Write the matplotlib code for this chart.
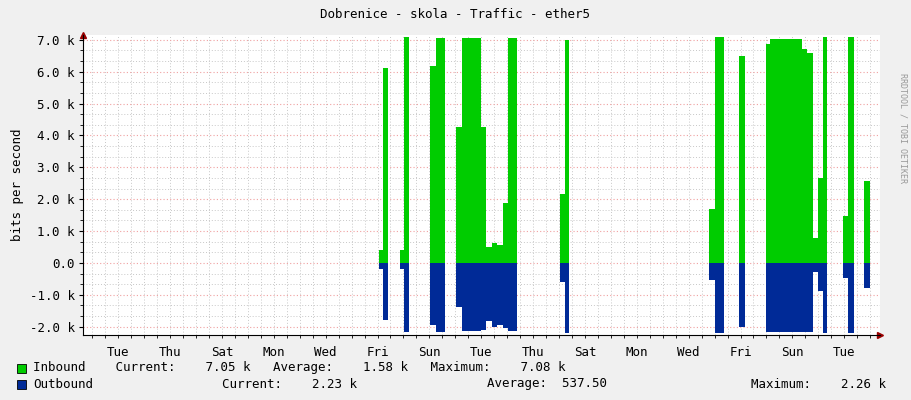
import matplotlib
matplotlib.use("Agg")
import matplotlib.pyplot as plt
import numpy as np
from matplotlib.ticker import MultipleLocator, FixedLocator

# segment edges (days) ; values in bits/s per segment (NaN = no data)
edges = [10.55,10.72,10.91,11.08, 11.36,11.53,11.72,11.90, 12.52,12.75,13.10,13.29,
         13.51,13.75,14.48,14.68,14.93,15.09,15.33,15.52,15.89,16.10,
         17.54,17.73,17.88,18.04,
         23.28,23.51,23.86,24.05, 24.45,24.67,24.86,
         25.48,25.63,26.86,27.05,27.28,27.47,27.67,27.84,28.04,
         28.47,28.66,28.86,29.03, 29.26,29.49,29.84]
nan = np.nan
inbound = [410,6100,5960,nan, 410,7100,2600,nan, 6170,7050,320,nan,
           4270,7050,4270,500,620,550,1890,7050,1690,nan,
           2150,7000,4500,nan,
           1690,7080,1440,nan, 6490,4950,nan,
           6870,7030,6700,6600,770,2670,7100,3780,nan,
           1480,7100,2260,nan, 2580,7050]
outbound = [180,1800,1800,nan, 180,2180,850,nan, 1960,2180,120,nan,
            1370,2150,2100,1820,2000,1950,2050,2150,530,nan,
            600,2200,1700,nan,
            550,2200,530,nan, 2000,1530,nan,
            2180,2180,2180,2180,270,870,2200,1210,nan,
            480,2200,740,nan, 800,2200]

day_labels = ["Tue","Thu","Sat","Mon","Wed","Fri","Sun","Tue","Thu","Sat","Mon","Wed","Fri","Sun","Tue"]
y_ticks = [-2000,-1000,0,1000,2000,3000,4000,5000,6000,7000]
y_labels = ["-2.0 k","-1.0 k","0.0","1.0 k","2.0 k","3.0 k","4.0 k","5.0 k","6.0 k","7.0 k"]

mono = "DejaVu Sans Mono"
plt.rcParams['font.family'] = mono
fig = plt.figure(figsize=(9.11, 4.0), dpi=100, facecolor="#F0F0F0")
ax = fig.add_axes([83/911, 65/400, 797/911, 300/400])
ax.set_facecolor("white")

x = np.array(edges)
vin = np.array(list(inbound) + [nan])
vout = -np.array(list(outbound) + [nan])
ax.fill_between(x, 0, vin, step="post", color="#00CC00", linewidth=0)
ax.fill_between(x, 0, vout, step="post", color="#002A97", linewidth=0)

ax.set_xlim(-0.86, 29.88)
ax.set_ylim(-2260, 7150)
ax.xaxis.set_major_locator(FixedLocator(np.arange(0, 30, 1)))
ax.xaxis.set_minor_locator(MultipleLocator(0.5))
ax.yaxis.set_major_locator(FixedLocator(y_ticks))
ax.yaxis.set_minor_locator(MultipleLocator(1000/3))
ax.grid(which="minor", color="#C8C8C8", linestyle=(0, (1, 2)), linewidth=0.7)
ax.grid(which="major", color="#F0A0A0", linestyle=(0, (1, 2)), linewidth=0.8)
ax.set_axisbelow(True)
ax.set_yticks(y_ticks)
ax.set_yticklabels(y_labels, fontsize=9)
ax.set_xticks([])
for i, lab in enumerate(day_labels):
    ax.text(0.5 + 2*i, -0.035, lab, transform=ax.get_xaxis_transform(), ha="center", va="top", fontsize=9)
ax.tick_params(axis="y", length=3, pad=3)
for s in ["top", "right"]:
    ax.spines[s].set_visible(False)
ax.spines["left"].set_color("black"); ax.spines["bottom"].set_color("black")
ax.spines["left"].set_linewidth(0.8); ax.spines["bottom"].set_linewidth(0.8)
ax.plot(1, 0, ">", transform=ax.transAxes, color="#990000", markersize=4, clip_on=False)
ax.plot(0, 1, "^", transform=ax.transAxes, color="#990000", markersize=4, clip_on=False)
ax.set_ylabel("bits per second", fontsize=9)

fig.text(455/911, 1 - 14/400, "Dobrenice - skola - Traffic - ether5", ha="center", va="center", fontsize=9)
fig.text(903/911, 0.5 + 0.18, "RRDTOOL / TOBI OETIKER", rotation=270, ha="center", va="center", fontsize=6, color="#999999")

def box(xp, yp, c):
    fig.patches.append(plt.Rectangle((xp/911, 1 - (yp+5)/400), 9/911, 9/400, transform=fig.transFigure,
                                     facecolor=c, edgecolor="black", linewidth=0.6))
box(17, 368, "#00CC00"); box(17, 384, "#002A97")
ly1 = 1 - 368/400; ly2 = 1 - 384/400
fig.text(33/911, ly1, "Inbound    Current:    7.05 k   Average:    1.58 k   Maximum:    7.08 k", fontsize=9, va="center")
fig.text(33/911, ly2, "Outbound", fontsize=9, va="center")
fig.text(222/911, ly2, "Current:    2.23 k", fontsize=9, va="center")
fig.text(487/911, ly2, "Average:  537.50", fontsize=9, va="center")
fig.text(751/911, ly2, "Maximum:    2.26 k", fontsize=9, va="center")

fig.savefig("out.png", dpi=100, facecolor=fig.get_facecolor())
